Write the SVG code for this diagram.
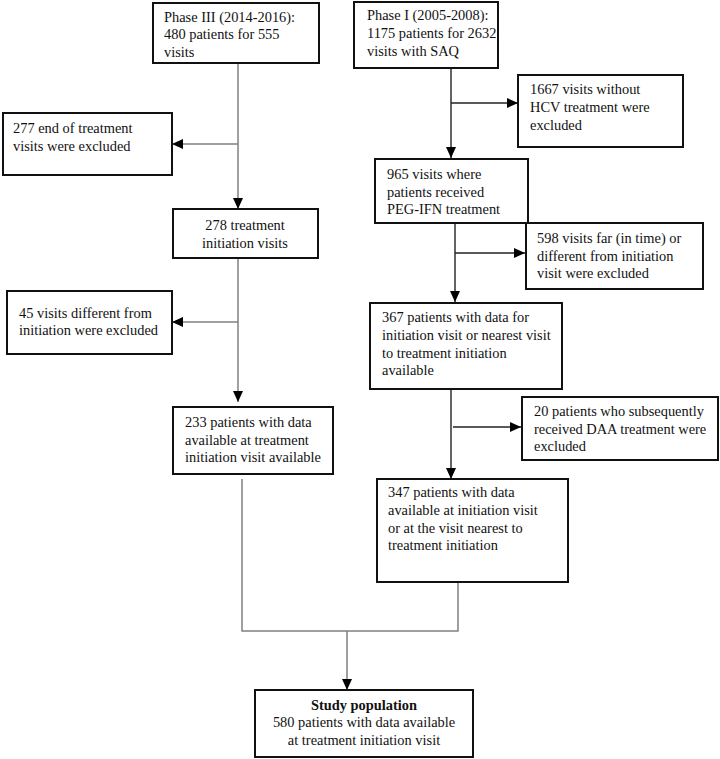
<svg xmlns="http://www.w3.org/2000/svg" width="720" height="759" viewBox="0 0 720 759">
<style>
.box{fill:#fff;stroke:#111;stroke-width:2}
text{font-family:"Liberation Serif","Times New Roman",serif;font-size:14.4px;fill:#111}
.c{text-anchor:middle}
.b{font-weight:bold}
.gl{stroke:#808080;stroke-width:1.5;fill:none}
.dl{stroke:#222;stroke-width:1.4;fill:none}
</style>
<defs>
<marker id="ah" markerUnits="userSpaceOnUse" markerWidth="12" markerHeight="10" refX="11" refY="5" orient="auto">
<path d="M0,0 L11,5 L0,10 Z" fill="#000"/>
</marker>
</defs>
<rect width="720" height="759" fill="#fff"/>
<g id="connectors">
<line class="gl" x1="238" y1="63" x2="238" y2="209" marker-end="url(#ah)"/>
<line class="gl" x1="238" y1="144" x2="172" y2="144" marker-end="url(#ah)"/>
<line class="gl" x1="238" y1="258" x2="238" y2="402" marker-end="url(#ah)"/>
<line class="gl" x1="238" y1="322" x2="172" y2="322" marker-end="url(#ah)"/>
<line class="dl" x1="451" y1="68" x2="451" y2="158" marker-end="url(#ah)"/>
<line class="dl" x1="451" y1="103" x2="518" y2="103" marker-end="url(#ah)"/>
<line class="dl" x1="455" y1="215" x2="455" y2="302" marker-end="url(#ah)"/>
<line class="dl" x1="455" y1="253" x2="525" y2="253" marker-end="url(#ah)"/>
<line class="dl" x1="451" y1="389" x2="451" y2="479" marker-end="url(#ah)"/>
<line class="dl" x1="453" y1="427" x2="521" y2="427" marker-end="url(#ah)"/>
<path class="gl" d="M242,479 V631 H458 V568"/>
<line class="gl" x1="347" y1="631" x2="347" y2="690" marker-end="url(#ah)"/>
</g>
<g id="phase3">
<rect class="box" x="153" y="3" width="166" height="60"/>
<text x="164" y="22">Phase III (2014-2016):</text>
<text x="164" y="39">480 patients for 555</text>
<text x="164" y="57">visits</text>
</g>
<g id="excl277">
<rect class="box" x="3" y="113" width="169" height="62"/>
<text x="13" y="133">277 end of treatment</text>
<text x="13" y="151">visits were excluded</text>
</g>
<g id="init278">
<rect class="box" x="173" y="209" width="145" height="49"/>
<text class="c" x="245" y="230">278 treatment</text>
<text class="c" x="245" y="248">initiation visits</text>
</g>
<g id="excl45">
<rect class="box" x="7" y="291" width="165" height="63"/>
<text x="19" y="318">45 visits different from</text>
<text x="19" y="335">initiation were excluded</text>
</g>
<g id="p233">
<rect class="box" x="173" y="407" width="160" height="67"/>
<text x="185" y="427">233 patients with data</text>
<text x="185" y="445">available at treatment</text>
<text x="185" y="462">initiation visit available</text>
</g>
<g id="phase1">
<rect class="box" x="354" y="2" width="144" height="66"/>
<text x="367" y="20">Phase I (2005-2008):</text>
<text x="367" y="38">1175 patients for 2632</text>
<text x="367" y="56">visits with SAQ</text>
</g>
<g id="excl1667">
<rect class="box" x="518" y="75" width="165" height="72"/>
<text x="530" y="94">1667 visits without</text>
<text x="530" y="112">HCV treatment were</text>
<text x="530" y="130">excluded</text>
</g>
<g id="v965">
<rect class="box" x="375" y="159" width="153" height="64"/>
<text x="387" y="179">965 visits where</text>
<text x="387" y="197">patients received</text>
<text x="387" y="214">PEG-IFN treatment</text>
</g>
<g id="excl598">
<rect class="box" x="526" y="223" width="177" height="66"/>
<text x="537" y="243">598 visits far (in time) or</text>
<text x="537" y="261">different from initiation</text>
<text x="537" y="278">visit were excluded</text>
</g>
<g id="p367">
<rect class="box" x="370" y="303" width="192" height="86"/>
<text x="382" y="322">367 patients with data for</text>
<text x="382" y="340">initiation visit or nearest visit</text>
<text x="382" y="358">to treatment initiation</text>
<text x="382" y="375">available</text>
</g>
<g id="excl20">
<rect class="box" x="522" y="397" width="196" height="63"/>
<text x="534" y="416">20 patients who subsequently</text>
<text x="534" y="434">received DAA treatment were</text>
<text x="534" y="451">excluded</text>
</g>
<g id="p347">
<rect class="box" x="377" y="479" width="191" height="103"/>
<text x="388" y="497">347 patients with data</text>
<text x="388" y="515">available at  initiation visit</text>
<text x="388" y="533">or at the visit nearest to</text>
<text x="388" y="550">treatment initiation</text>
</g>
<g id="study">
<rect class="box" x="255" y="690" width="218" height="67"/>
<text class="c b" x="364" y="710">Study population</text>
<text class="c" x="364" y="727">580 patients with data available</text>
<text class="c" x="364" y="745">at treatment initiation visit</text>
</g>
</svg>
